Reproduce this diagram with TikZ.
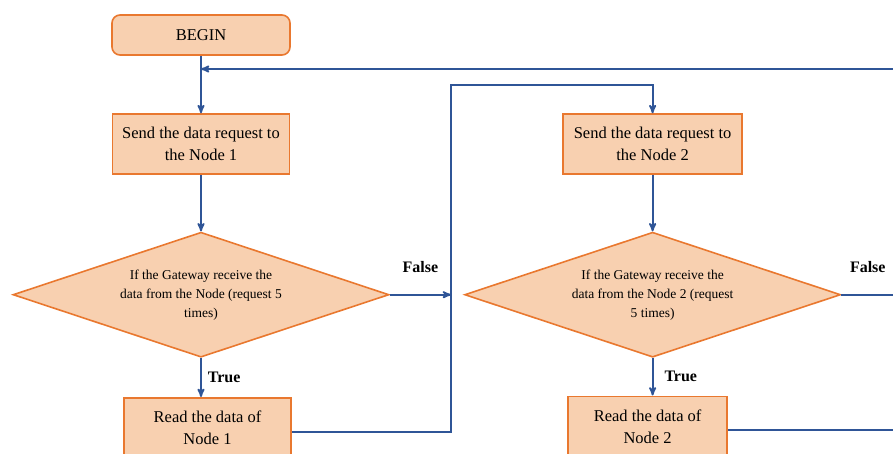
\documentclass[tikz,border=0pt]{standalone}
\usepackage{fontspec}
\setmainfont{Liberation Serif}
\usetikzlibrary{arrows,positioning,shapes.geometric}
\definecolor{peach}{HTML}{F8D0B0}
\definecolor{boxorange}{HTML}{E9782F}
\definecolor{flowblue}{HTML}{2F5597}
\tikzset{
    %Define standard arrow tip
    >=stealth',
    %Define style for boxes
    startbox/.style={
           rectangle,
           rounded corners=8pt,
           draw=boxorange, line width=1.6pt,
           fill=peach,
           minimum width=178pt,
           minimum height=40pt,
           font=\fontsize{16.5}{22}\selectfont,
           text centered,
           },
    process/.style={
           rectangle,
           draw=boxorange, line width=1.6pt,
           fill=peach,
           minimum width=177pt,
           minimum height=60pt,
           font=\fontsize{16.5}{22}\selectfont,
           align=center,
           },
    decision/.style={
           diamond,
           aspect=3,
           draw=boxorange, line width=1.6pt,
           fill=peach,
           minimum width=376pt,
           minimum height=125pt,
           inner sep=0pt,
           font=\fontsize{13.5}{19}\selectfont,
           align=center,
           },
    % Define arrow style
    flow/.style={
           draw=flowblue,
           line width=1.8pt,
           },
    answer/.style={
           font=\fontsize{16}{18}\selectfont\bfseries,
           inner sep=0pt,
           }
}
\begin{document}
\begin{tikzpicture}[x=1pt,y=-1pt]
 \useasboundingbox (0,0) rectangle (893,454);
 \clip (0,0) rectangle (893,454);

 %nodes
\node[startbox] (begin) at (201,35) {BEGIN};
\node[process, below=57.5pt of begin] (send1) {Send the data request to\\the Node 1};
\node[decision, below=56.5pt of send1] (dec1) {If the Gateway receive the\\data from the Node (request 5\\times)};
\node[process, minimum width=167pt, below=39pt of dec1, xshift=6.5pt] (read1) {Read the data of\\Node 1};
\node[process, minimum width=179pt, right=272pt of send1] (send2) {Send the data request to\\the Node 2};
\node[decision, below=56.5pt of send2] (dec2) {If the Gateway receive the\\data from the Node 2 (request\\5 times)};
\node[process, minimum width=159pt, below=37.5pt of dec2, xshift=-5pt] (read2) {Read the data of\\Node 2};

 %helper points
\coordinate (bus1) at (451,85);
\coordinate (ret) at (900,69);
\coordinate (out1) at ([yshift=-4pt]read1.east);
\coordinate (out2) at ([yshift=-4pt]read2.east);

 %connectors
\draw[flow,->] (begin) -- (send1);
\draw[flow,->] (ret) -- (ret -| begin.south);
\draw[flow,->] (send1) -- (dec1);
\draw[flow,->] (dec1.south) -- (dec1.south |- read1.north)
    node[answer, midway, right=6pt] {True};
\draw[flow,->] (dec1.east) -- (dec1.east -| bus1)
    node[answer, midway, above=21pt] {False};
\draw[flow,->] (out1) -- (out1 -| bus1) -- (bus1) -- (bus1 -| send2.north) -- (send2.north);
\draw[flow,->] (send2) -- (dec2);
\draw[flow,->] (dec2.south) -- (dec2.south |- read2.north)
    node[answer, midway, right=11pt] {True};
\draw[flow] (dec2.east) -- (dec2.east -| ret)
    node[answer, pos=0.45, above=21pt] {False};
\draw[flow] (out2) -- (out2 -| ret);

\end{tikzpicture}
\end{document}
